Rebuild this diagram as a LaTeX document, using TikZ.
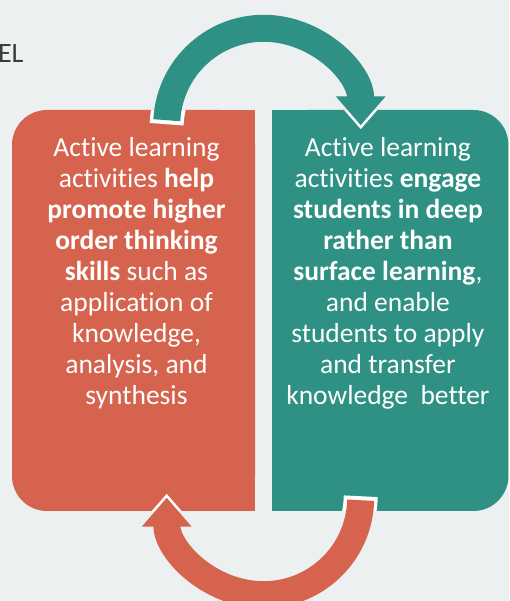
\documentclass[tikz,border=0pt]{standalone}
\usepackage{fontspec}
\setmainfont[Ligatures=NoCommon]{Carlito}
\usetikzlibrary{arrows.meta,positioning,calc,backgrounds}
\definecolor{boxorange}{HTML}{D5634D}
\definecolor{boxteal}{HTML}{2E9183}
\definecolor{pagegray}{HTML}{ECF0F1}
\definecolor{titlegray}{HTML}{3C3C3C}
\tikzset{%
  % Specifications for the two cards:
   cardbase/.style = {rectangle, rounded corners=35pt, inner sep=0pt,
                      minimum height=401pt},
   leftcard/.style = {cardbase, fill=boxorange, minimum width=243pt},
  rightcard/.style = {cardbase, fill=boxteal, minimum width=236pt},
   cardtext/.style = {inner sep=0pt, align=center, text=white,
                      font=\fontsize{27.5}{31}\selectfont},
  % Specifications for the curved arrows:
   loopedge/.style = {line width=27pt, -{Triangle[width=48pt,length=29pt]}},
   loophalo/.style = {line width=34pt, draw=white, shorten <=-4pt, shorten >=-4pt,
                      -{Triangle[width=60pt,length=36pt]}}
}

\begin{document}
\begin{tikzpicture}[x=1pt, y=1pt]
  \useasboundingbox (0,0) rectangle (509,601);

  \node (title) [anchor=base east, text=titlegray, font=\fontsize{28}{34}\selectfont] at (27,538) {EL};

  \node (promote) [leftcard] at (133.5,290.5) {};
  \node (engage)  [rightcard, right=17pt of promote] {};

  \node (promotetxt) [cardtext, below=27pt of promote.north, xshift=3pt]
    {Active learning\\ activities \textbf{help}\\ \textbf{promote higher}\\
     \textbf{order thinking}\\ \textbf{skills} such as\\ application of\\
     knowledge,\\ analysis, and\\ synthesis};
  \node (engagetxt) [cardtext, below=27pt of engage.north, xshift=-2.5pt]
    {Active learning\\ activities \textbf{engage}\\ \textbf{students in deep}\\
     \textbf{rather than}\\ \textbf{surface learning},\\ and enable\\
     students to apply\\ and transfer\\ knowledge~ better};

  \begin{scope}[on background layer]
    \fill[pagegray] (0,0) rectangle (509,601);
    \fill[boxorange] (promote.north) rectangle (promote.south east);
    \fill[boxteal] (engage.north west) rectangle (engage.south);
  \end{scope}

  \coordinate (topc) at ($(promote.north east)!0.5!(engage.north west)+(0,-15.5)$);
  \coordinate (botc) at ($(promote.south east)!0.5!(engage.south west)+(0,13.5)$);

  % white edges only show on the cards
  \begin{scope}
    \clip (promote.south west) rectangle (promote.north east)
          (engage.south west) rectangle (engage.north east);
    \draw[loophalo] ($(topc)+(177:97)$) arc[start angle=177, end angle=0, radius=97];
    \draw[loophalo] ($(botc)+(-1.5:97)$) arc[start angle=-1.5, end angle=-180, radius=97];
  \end{scope}

  \draw[loopedge, boxteal]   ($(topc)+(177:97)$) arc[start angle=177, end angle=0, radius=97];
  \draw[loopedge, boxorange] ($(botc)+(-1.5:97)$) arc[start angle=-1.5, end angle=-180, radius=97];
\end{tikzpicture}
\end{document}
